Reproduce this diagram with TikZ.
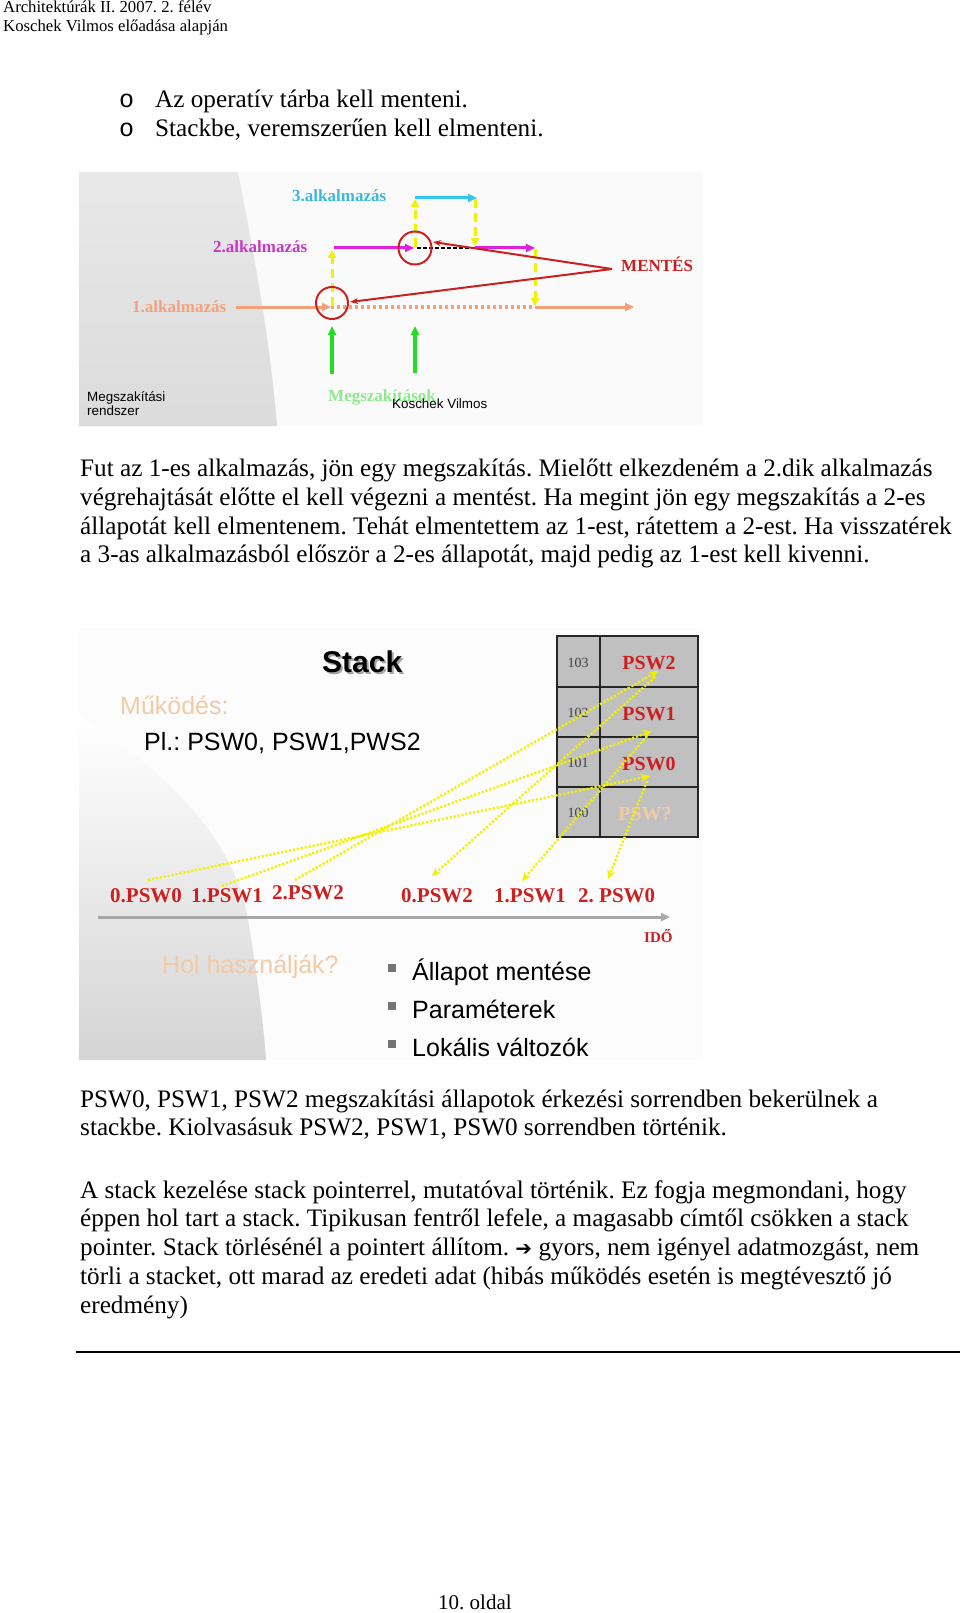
\documentclass[tikz,border=0pt]{standalone}
\usepackage{fontspec}
\setmainfont{Liberation Serif}
\setsansfont{Liberation Sans}
\newfontfamily\symfont{DejaVu Sans}
\newfontfamily\courfont{Liberation Mono}
\usetikzlibrary{arrows.meta}
\frenchspacing
\definecolor{cyanA}{HTML}{33C6EE}
\definecolor{cyanT}{HTML}{3DB8DA}
\definecolor{magA}{HTML}{E020E0}
\definecolor{magT}{HTML}{C838C8}
\definecolor{salA}{HTML}{F4A078}
\definecolor{salT}{HTML}{F2A27E}
\definecolor{yelA}{HTML}{F2F200}
\definecolor{redA}{HTML}{CC2020}
\definecolor{grnA}{HTML}{22DD22}
\definecolor{grnT}{HTML}{8EEA8E}
\definecolor{peach}{HTML}{F2CBA6}
\definecolor{tblgray}{HTML}{C0C0C0}
\definecolor{axisgray}{HTML}{A8A8A8}
\begin{document}
\begin{tikzpicture}[x=1pt,y=-1pt,
  body/.style={anchor=base west, inner sep=0pt, font=\frenchspacing\fontsize{25.2}{29}\selectfont},
  hdr/.style={anchor=base west, inner sep=0pt, font=\frenchspacing\fontsize{16.7}{19}\selectfont},
  bul/.style={anchor=base west, inner sep=0pt, font=\courfont\fontsize{25}{29}\selectfont},
  lbl/.style={anchor=base west, inner sep=0pt, font=\bfseries\fontsize{17}{20}\selectfont},
  smallsans/.style={anchor=base west, inner sep=0pt, font=\sffamily\fontsize{13.4}{15}\selectfont},
  bigsans/.style={anchor=base west, inner sep=0pt, font=\frenchspacing\sffamily\fontsize{25}{29}\selectfont},
  pswlbl/.style={anchor=base west, inner sep=0pt, text=redA, font=\bfseries\fontsize{21}{24}\selectfont},
  cellnum/.style={anchor=center, inner sep=0pt, text=black!75, font=\fontsize{14}{16}\selectfont},
  cellpsw/.style={anchor=center, inner sep=0pt, font=\bfseries\fontsize{20}{23}\selectfont},
  tip/.style={-{Triangle[length=9pt,width=8pt]}},
  ydash/.style={draw=yelA, line width=3pt, dash pattern=on 9pt off 5pt, -{Triangle[length=8pt,width=8pt]}},
  yarr/.style={draw=yelA, line width=2.4pt, dash pattern=on 2.2pt off 1.8pt, -{Stealth[length=9pt,width=8pt]}},
]
\useasboundingbox (0,0) rectangle (960,1613);
\fill[white] (0,0) rectangle (960,1613);

% ---------- header ----------
\node[hdr] (h1) at (3,13) {Architektúrák II. 2007. 2. félév};
\node[hdr] (h2) at (3,32) {Koschek Vilmos előadása alapján};

% ---------- bullets ----------
\node[bul] (b1) at (119,107.5) {o};
\node[body] (t1) at (155,107.5) {Az operatív tárba kell menteni.};
\node[bul] (b2) at (119,136.3) {o};
\node[body] (t2) at (155,136.3) {Stackbe, veremszerűen kell elmenteni.};

% ---------- diagram 1 ----------
\fill[black!2] (79,172) rectangle (703,426);
\shade[top color=black!9, bottom color=black!14]
  (79,172) -- (238,172) .. controls (255,260) and (270,340) .. (277,426) -- (79,426) -- cycle;

\node[lbl, text=cyanT] (app3) at (292,201.5) {3.alkalmazás};
\node[lbl, text=magT] (app2) at (213,252) {2.alkalmazás};
\node[lbl, text=salT] (app1) at (132,312) {1.alkalmazás};
\node[lbl, text=redA] (ment) at (621,272) {MENTÉS};
\node[lbl, text=grnT] (megsz) at (328,401) {Megszakítások};
\node[smallsans] (kv) at (392,408) {Koschek Vilmos};
\node[smallsans] (mr1) at (87,401) {Megszakítási};
\node[smallsans] (mr2) at (87,415) {rendszer};

\coordinate (s1a) at (236,307); \coordinate (s1b) at (331,307);
\coordinate (s1c) at (535,307); \coordinate (s1d) at (634,307);
\coordinate (m1a) at (334,248); \coordinate (m1b) at (414,248);
\coordinate (m2a) at (475,248); \coordinate (m2b) at (535,248);
\coordinate (c1a) at (415,198); \coordinate (c1b) at (477,198);
\coordinate (apex) at (612,269);
\coordinate (r1) at (433,242); \coordinate (r2) at (350,302);
\coordinate (g1a) at (332,374); \coordinate (g1b) at (332,326);
\coordinate (g2a) at (415,373); \coordinate (g2b) at (415,326);
\coordinate (ci1) at (332,303); \coordinate (ci2) at (415,248);

% salmon
\draw[salA, line width=3pt, tip] (s1a) -- (s1b);
\draw[salA, line width=3.5pt, dash pattern=on 3pt off 3pt] (s1b) -- (s1c);
\draw[salA, line width=3pt, tip] (s1c) -- (s1d);
% magenta
\draw[magA, line width=3pt, tip] (m1a) -- (m1b);
\draw[black, line width=2.5pt, dash pattern=on 4pt off 2pt] (417,248) -- (m2a);
\draw[magA, line width=3pt, tip] (m2a) -- (m2b);
% cyan
\draw[cyanA, line width=3pt, tip] (c1a) -- (c1b);
% yellow dashed transitions
\draw[ydash] (332,306) -- (332,250);
\draw[ydash] (415,247) -- (415,199);
\draw[ydash] (475,199) -- (475,246);
\draw[ydash] (535,249) -- (535,306);
% red circles and lines
\draw[redA, line width=2pt] (ci1) circle (16);
\draw[redA, line width=2pt] (ci2) circle (16.5);
\draw[redA, line width=2pt, -{Stealth[length=8pt,width=6pt]}] (apex) -- (r1);
\draw[redA, line width=2pt, -{Stealth[length=8pt,width=6pt]}] (apex) -- (r2);
% green
\draw[grnA, line width=3.5pt, tip] (g1a) -- (g1b);
\draw[grnA, line width=3.5pt, tip] (g2a) -- (g2b);

% ---------- paragraph 1 ----------
\node[body] (p1) at (80,476.5) {Fut az 1-es alkalmazás, jön egy megszakítás. Mielőtt elkezdeném a 2.dik alkalmazás};
\node[body] (p2) at (80,505.3) {végrehajtását előtte el kell végezni a mentést. Ha megint jön egy megszakítás a 2-es};
\node[body] (p3) at (80,534.1) {állapotát kell elmentenem. Tehát elmentettem az 1-est, rátettem a 2-est. Ha visszatérek};
\node[body] (p4) at (80,562.9) {a 3-as alkalmazásból először a 2-es állapotát, majd pedig az 1-est kell kivenni.};

% ---------- diagram 2 ----------
\fill[black!1] (79,628) rectangle (703,1060);
\shade[top color=white, bottom color=black!17]
  (79,715) .. controls (170,775) and (235,840) .. (248,920)
  .. controls (258,980) and (264,1030) .. (266,1060) -- (79,1060) -- cycle;

\node[anchor=base west, inner sep=0pt, text=black!35, font=\sffamily\bfseries\fontsize{30}{34}\selectfont] (stacksh) at (324,674) {Stack};
\node[anchor=base west, inner sep=0pt, font=\sffamily\bfseries\fontsize{30}{34}\selectfont] (stack) at (322,672) {Stack};
\node[bigsans, text=peach] (muk) at (120,714) {Működés:};
\node[bigsans] (pl) at (144,750) {Pl.: PSW0, PSW1,PWS2};

% table
\fill[tblgray] (557,636) rectangle (698,837);
\draw[black!85, line width=1.5pt] (557,636) rectangle (698,837);
\draw[black!85, line width=1.5pt] (600,636) -- (600,837);
\draw[black!85, line width=1.5pt] (557,687) -- (698,687);
\draw[black!85, line width=1.5pt] (557,737) -- (698,737);
\draw[black!85, line width=1.5pt] (557,787) -- (698,787);
\node[cellnum] (n103) at (578,663) {103};
\node[cellnum] (n102) at (578,713) {102};
\node[cellnum] (n101) at (578,763) {101};
\node[cellnum] (n100) at (578,813) {100};
\node[cellpsw, text=redA] (psw2) at (649,663) {PSW2};
\node[cellpsw, text=redA] (psw1) at (649,714) {PSW1};
\node[cellpsw, text=redA] (psw0) at (649,764) {PSW0};
\node[cellpsw, text=peach] (pswq) at (645,814) {PSW?};

% labels on axis
\node[pswlbl] (l0) at (110,902) {0.PSW0};
\node[pswlbl] (l1) at (191,902) {1.PSW1};
\node[pswlbl] (l2) at (272,899) {2.PSW2};
\node[pswlbl] (r0) at (401,902) {0.PSW2};
\node[pswlbl] (r1l) at (494,902) {1.PSW1};
\node[pswlbl] (r2l) at (578,902) {2. PSW0};

% yellow arrows
\coordinate (ya0) at (148,880); \coordinate (yb0) at (650,776);
\coordinate (ya1) at (222,886); \coordinate (yb1) at (652,731);
\coordinate (ya2) at (295,880); \coordinate (yb2) at (658,671);
\coordinate (yc2) at (655,677); \coordinate (yd2) at (432,876);
\coordinate (yc1) at (647,736); \coordinate (yd1) at (522,881);
\coordinate (yc0) at (647,781); \coordinate (yd0) at (608,879);
\draw[yarr] (ya0) -- (yb0);
\draw[yarr] (ya1) -- (yb1);
\draw[yarr] (ya2) -- (yb2);
\draw[yarr] (yc2) -- (yd2);
\draw[yarr] (yc1) -- (yd1);
\draw[yarr] (yc0) -- (yd0);

% time axis
\coordinate (ax0) at (98,917); \coordinate (ax1) at (670,917);
\draw[axisgray, line width=3pt, -{Triangle[length=9pt,width=8pt]}] (ax0) -- (ax1);
\node[anchor=base west, inner sep=0pt, text=redA, font=\bfseries\fontsize{15}{17}\selectfont] (ido) at (644,942) {IDŐ};

\node[bigsans, text=peach] (hol) at (162,973) {Hol használják?};
\fill[black!55] (388,964) rectangle (396,972);
\fill[black!55] (388,1002) rectangle (396,1010);
\fill[black!55] (388,1040) rectangle (396,1048);
\node[bigsans] (i1) at (412,980) {Állapot mentése};
\node[bigsans] (i2) at (412,1018) {Paraméterek};
\node[bigsans] (i3) at (412,1056) {Lokális változók};

% ---------- paragraphs 2,3 ----------
\node[body] (q1) at (80,1107) {PSW0, PSW1, PSW2 megszakítási állapotok érkezési sorrendben bekerülnek a};
\node[body] (q2) at (80,1135.8) {stackbe. Kiolvasásuk PSW2, PSW1, PSW0 sorrendben történik.};
\node[body] (q3) at (80,1198) {A stack kezelése stack pointerrel, mutatóval történik. Ez fogja megmondani, hogy};
\node[body] (q4) at (80,1226.8) {éppen hol tart a stack. Tipikusan fentről lefele, a magasabb címtől csökken a stack};
\node[body] (q5) at (80,1255.6) {pointer. Stack törlésénél a pointert állítom. {\symfont\bfseries\fontsize{20}{24}\selectfont ➔} gyors, nem igényel adatmozgást, nem};
\node[body] (q6) at (80,1284.4) {törli a stacket, ott marad az eredeti adat (hibás működés esetén is megtévesztő jó};
\node[body] (q7) at (80,1313) {eredmény)};

% ---------- footer ----------
\draw[black, line width=1.6pt] (76,1352) -- (960,1352);
\node[anchor=base west, inner sep=0pt, font=\fontsize{21}{24}\selectfont] (pg) at (438,1609) {10. oldal};
\end{tikzpicture}
\end{document}
